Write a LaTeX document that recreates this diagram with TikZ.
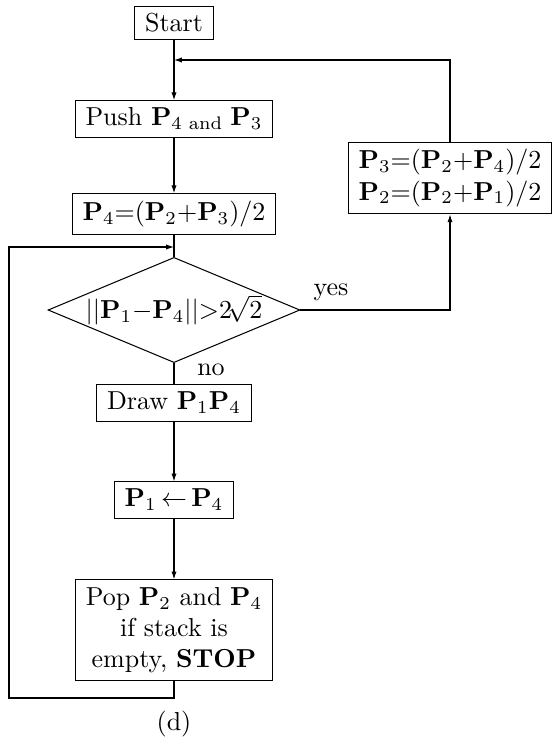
\documentclass[tikz,border=0pt]{standalone}
\usepackage{amsmath,amssymb}
\usepackage{tikz}
\usetikzlibrary{shapes.geometric}
\usetikzlibrary{arrows.meta}

\begin{document}
\begin{tikzpicture}[
    x=0.385pt, y=-0.385pt,
    box/.style={draw, inner xsep=4pt, inner ysep=2.8pt},
    test/.style={diamond, draw, aspect=2.4, inner sep=-3pt,
      minimum width=97pt, minimum height=40.5pt},
    arr/.style={-{Latex[length=3pt, width=2pt]}},
  ]
  \useasboundingbox (0,0) rectangle (554,745);

  \node[box] (start) at (174, 23)  {Start};
  \node[box] (push)  at (174, 119) {Push $\mathbf{P}_{4\text{ and }}\mathbf{P}_3$};
  \node[box] (mid)   at (174, 214) {$\mathbf{P}_4{=}(\mathbf{P}_2{+}\mathbf{P}_3)/2$};
  \node[test] (cond) at (174, 310) {$||\mathbf{P}_1{-}\mathbf{P}_4||{>}2\!\sqrt{2}$};
  \node[box] (drawseg) at (174, 403) {Draw $\mathbf{P}_1\mathbf{P}_4$};
  \node[box] (assign) at (174, 500) {$\mathbf{P}_1\,{\leftarrow}\,\mathbf{P}_4$};
  \node[box, align=center] (pop) at (174, 630)
    {Pop $\mathbf{P}_2$ and $\mathbf{P}_4$\\ if stack is\\ empty, \textbf{STOP}};
  \node[box, align=left] (split) at (450, 178)
    {$\mathbf{P}_3{=}(\mathbf{P}_2{+}\mathbf{P}_4)/2$\\ $\mathbf{P}_2{=}(\mathbf{P}_2{+}\mathbf{P}_1)/2$};

  \node (yes) at (331, 292) {yes};
  \node (no)  at (211, 370) {no};
  \node (cap) at (174, 724) {(d)};

  \coordinate (top)  at (174, 60);
  \coordinate (back) at (174, 247);
  \coordinate (low)  at (9, 698);

  \draw[arr] (start) -- (push);
  \draw[arr] (split.north) |- (top);
  \draw[arr] (push) -- (mid);
  \draw (mid) -- (cond);
  \draw[arr] (cond.east) -| (split.south);
  \draw (cond.south) -- (drawseg);
  \draw[arr] (drawseg) -- (assign);
  \draw[arr] (assign) -- (pop);
  \draw[arr] (pop.south) |- (low) |- (back);

\end{tikzpicture}
\end{document}
